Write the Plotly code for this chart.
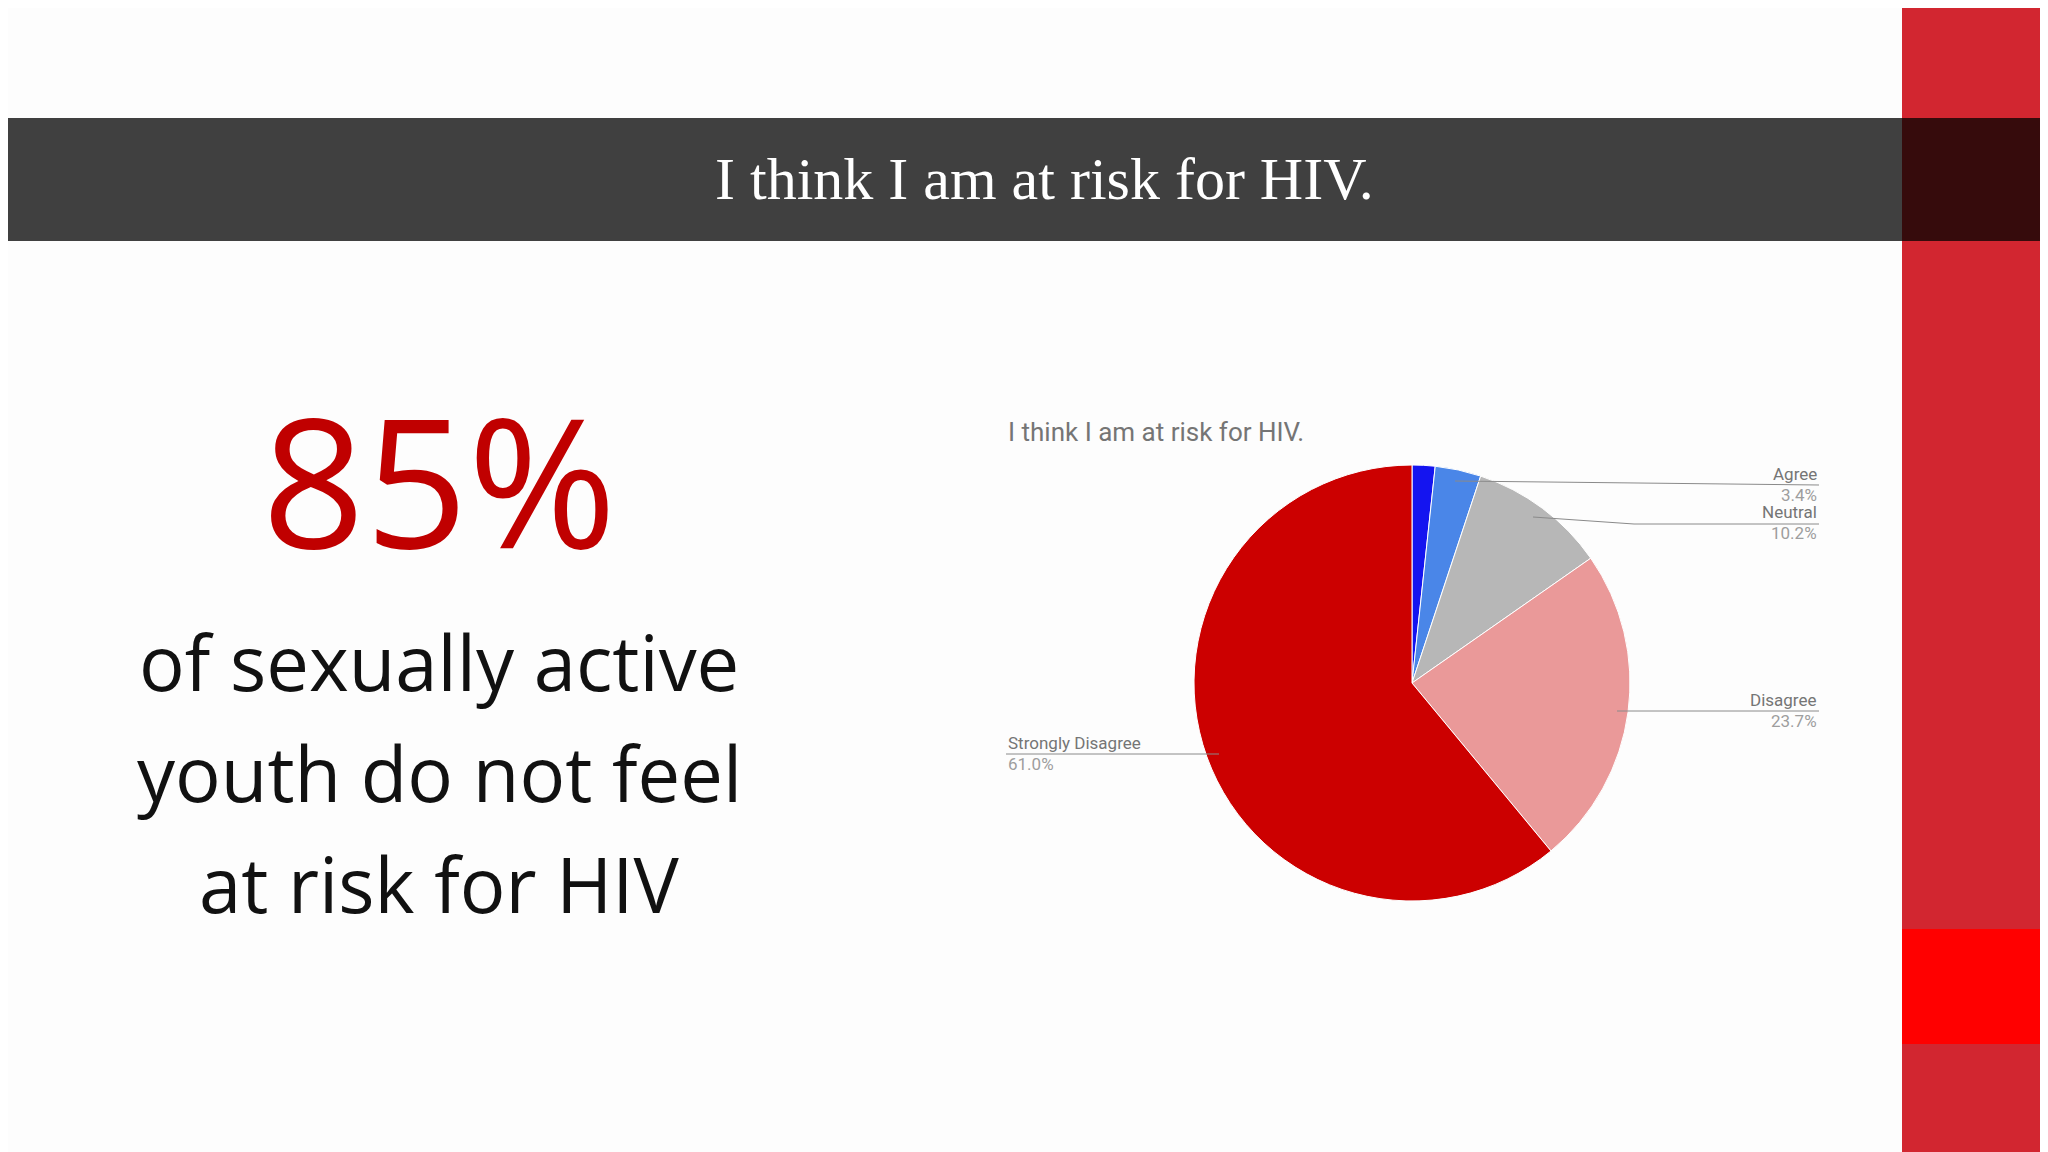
import plotly.graph_objects as go

W, H = 2048, 1152

labels = ['Strongly Agree', 'Agree', 'Neutral', 'Disagree', 'Strongly Disagree']
values = [1.7, 3.4, 10.2, 23.7, 61.0]
colors = ['#1414f0', '#4a86e8', '#b7b7b7', '#ea9999', '#cc0000']

banner_title = 'I think I am at risk for HIV.'
chart_title = 'I think I am at risk for HIV.'
big_number = '85%'
body_lines = ['of sexually active', 'youth do not feel', 'at risk for HIV']


def px(x):
    return x / W


def py(y):
    return 1 - y / H


fig = go.Figure()
fig.add_trace(go.Pie(labels=labels, values=values, sort=False, direction='clockwise',
                     rotation=0, marker=dict(colors=colors, line=dict(color='white', width=1)),
                     textinfo='none', hoverinfo='label+percent', showlegend=False,
                     domain=dict(x=[px(1186), px(1622)], y=[py(893), py(457)])))

shapes = [
    dict(type='rect', xref='paper', yref='paper', x0=0, x1=px(1894), y0=py(233), y1=py(110),
         fillcolor='#404040', line_width=0, layer='below'),
    dict(type='rect', xref='paper', yref='paper', x0=px(1894), x1=1, y0=0, y1=1,
         fillcolor='#d22630', line_width=0, layer='below'),
    dict(type='rect', xref='paper', yref='paper', x0=px(1894), x1=1, y0=py(233), y1=py(110),
         fillcolor='#360b0c', line_width=0, layer='below'),
    dict(type='rect', xref='paper', yref='paper', x0=px(1894), x1=1, y0=py(1036), y1=py(921),
         fillcolor='#ff0000', line_width=0, layer='below'),
]

# leader lines for pie labels
leaders = [
    [(1447, 473), (1811, 477)],
    [(1525, 509), (1626, 516), (1811, 516)],
    [(1609, 703), (1811, 703)],
    [(1211, 746), (998, 746)],
]
for pts in leaders:
    path = 'M ' + ' L '.join(f'{px(x)},{py(y)}' for x, y in pts)
    shapes.append(dict(type='path', xref='paper', yref='paper', path=path,
                       line=dict(color='#8a8a8a', width=1)))

ann = [
    dict(x=px(1036), y=py(171), text=banner_title, xanchor='center', yanchor='middle',
         font=dict(family='Liberation Serif', size=60, color='white')),
    dict(x=px(431), y=py(470), text=big_number, xanchor='center', yanchor='middle',
         font=dict(family='Open Sans', size=180, color='#c00000')),
    dict(x=px(998), y=py(424), text=chart_title, xanchor='left', yanchor='middle',
         font=dict(family='Roboto', size=26, color='#757575')),
]
for i, line in enumerate(body_lines):
    ann.append(dict(x=px(431), y=py(653 + 111 * i), text=line, xanchor='center', yanchor='middle',
                    font=dict(family='Open Sans', size=76, color='#111111')))

slice_labels = [
    ('Agree', '3.4%', 1811, 466, 'right'),
    ('Neutral', '10.2%', 1811, 504, 'right'),
    ('Disagree', '23.7%', 1811, 692, 'right'),
    ('Strongly Disagree', '61.0%', 998, 735, 'left'),
]
for name, pct, x, y, side in slice_labels:
    ann.append(dict(x=px(x), y=py(y), text=name, xanchor=side, yanchor='middle',
                    font=dict(family='Roboto', size=17, color='#757575')))
    ann.append(dict(x=px(x), y=py(y + 21), text=pct, xanchor=side, yanchor='middle',
                    font=dict(family='Roboto', size=17, color='#9e9e9e')))
for a in ann:
    a.update(xref='paper', yref='paper', showarrow=False)

fig.update_layout(width=W, height=H, margin=dict(l=0, r=0, t=0, b=0),
                  paper_bgcolor='#fdfdfd', plot_bgcolor='#fdfdfd',
                  shapes=shapes, annotations=ann)

fig.write_html("out.html", config={"displayModeBar": False})
